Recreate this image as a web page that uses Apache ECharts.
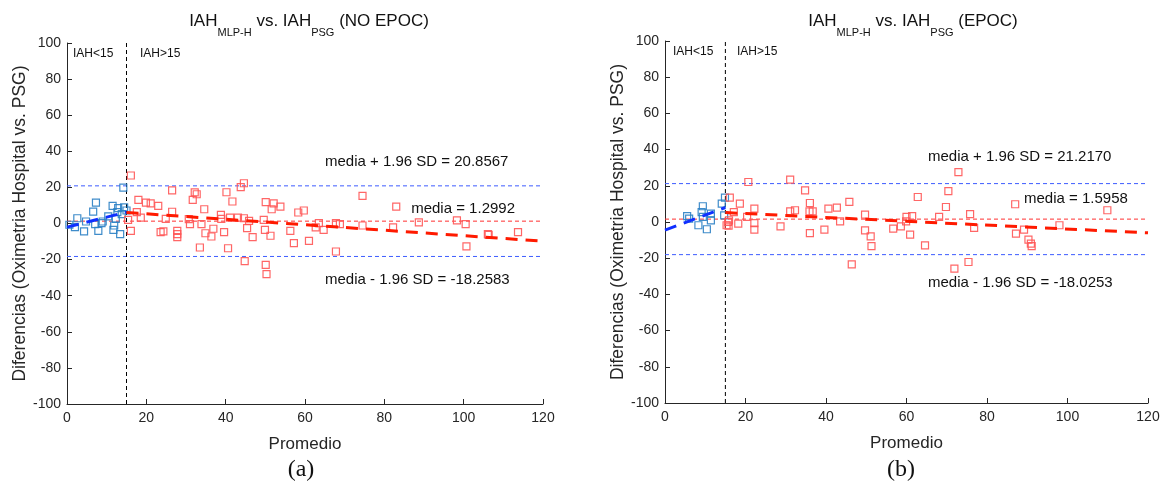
<!DOCTYPE html>
<html><head><meta charset="utf-8">
<script src="https://cdn.jsdelivr.net/npm/echarts@6/dist/echarts.min.js"></script>
<style>html,body{margin:0;padding:0;background:#fff}#c{width:1170px;height:499px}</style>
</head><body><div id="c"></div>
<script>
// ---- Data ----
// Panel (a) NO EPOC
const noEpocLow = [[0.6,-0.7],[2.0,-2.0],[2.6,2.9],[4.3,-4.4],[4.8,1.1],[6.6,6.6],[7.3,11.6],[7.1,-0.4],[7.9,-4.1],[8.7,0.2],[9.0,1.1],[10.4,3.9],[11.5,9.8],[11.7,-3.5],[11.9,-1.1],[12.3,2.6],[12.7,6.3],[12.9,8.5],[13.4,-5.9],[13.8,5.2],[14.2,19.9],[14.4,8.9],[15.0,7.2]];
const noEpocHigh = [[16.1,26.6],[16.1,-4.1],[15.4,2.0],[17.6,6.3],[18.0,13.1],[18.6,3.3],[19.9,11.6],[21.1,11.2],[23.0,9.8],[23.6,-4.8],[24.3,-4.4],[24.9,2.6],[26.5,18.4],[26.5,6.5],[27.8,-4.1],[27.8,-5.9],[27.8,-7.6],[30.7,2.4],[31.0,-0.4],[31.7,13.1],[32.2,17.2],[32.7,16.2],[33.9,-0.4],[34.6,7.9],[34.9,-5.4],[36.4,-7.2],[36.9,-2.9],[38.8,4.8],[38.9,2.6],[39.6,-4.8],[40.2,17.3],[40.6,-13.7],[41.1,3.3],[41.7,12.2],[33.5,-13.3],[44.6,22.3],[43.8,20.1],[43.1,3.3],[44.6,2.9],[45.4,-2.6],[45.9,1.5],[46.8,-7.6],[44.8,-20.8],[49.6,2.0],[50.1,11.8],[51.6,7.9],[52.1,11.2],[53.8,9.4],[49.9,-3.5],[51.3,-6.8],[56.3,-4.1],[57.2,-10.9],[58.3,6.1],[59.7,7.2],[61.0,-9.6],[63.5,0.2],[62.7,-2.2],[64.7,-3.5],[67.8,0.2],[68.8,-0.4],[67.8,-15.5],[74.5,15.3],[74.5,-1.1],[82.2,-2.2],[83.0,9.4],[50.1,-22.9],[50.3,-28.0],[88.7,0.6],[98.3,1.7],[100.5,-0.4],[100.7,-12.7],[106.1,-5.9],[106.3,-6.3],[113.7,-4.8]];
const noEpocFitLow = [[0,-2.0],[15,6.3]];
const noEpocFitHigh = [[15,6.1],[120,-9.8]];
const noEpocMean = 1.2992, noEpocUpper = 20.8567, noEpocLower = -18.2583;

// Panel (b) EPOC
const epocLow = [[5.5,3.2],[6.0,1.9],[8.3,-1.8],[9.1,5.5],[9.4,8.7],[10.4,-4.0],[9.4,2.8],[11.4,4.6],[11.4,0.9],[14.1,10.2],[14.9,13.5],[14.7,3.7]];
const epocHigh = [[20.7,22.1],[31.1,23.4],[34.8,17.5],[36.0,10.5],[35.9,5.9],[36.7,5.9],[32.3,6.5],[31.1,5.9],[16.1,13.5],[18.6,10.2],[17.1,5.5],[22.2,7.4],[20.4,2.8],[22.2,-0.6],[22.2,-4.2],[18.2,-0.9],[15.7,0],[15.3,-1.8],[15.8,-2.0],[15.9,0.9],[28.7,-2.4],[36.0,-6.1],[39.6,-4.2],[40.6,7.4],[42.7,7.9],[43.5,0.4],[45.8,11.1],[46.4,-23.4],[49.7,4.1],[49.7,-4.6],[51.1,-7.9],[51.3,-13.3],[56.7,-3.7],[58.6,-2.4],[59.9,0.4],[60.0,2.8],[61.4,3.3],[60.9,-7.0],[62.8,13.8],[64.6,-12.9],[68.1,2.8],[69.8,8.3],[70.4,17.1],[72.9,27.6],[71.9,-25.8],[75.4,-22.1],[75.8,4.3],[76.8,-3.3],[87.0,9.8],[87.2,-6.4],[89.2,-4.2],[90.3,-9.7],[90.9,-11.9],[91.1,-13.3],[98.0,-1.8],[109.9,6.5]];
const epocFitLow = [[0,-4.5],[15,8.0]];
const epocFitHigh = [[15,5.2],[120,-6.0]];
const epocMean = 1.5958, epocUpper = 21.2170, epocLower = -18.0253;

const cutoff = 15;
const xTicks = {min:0, max:120, interval:20};
const yTicks = {min:-100, max:100, interval:20};

// ---- Styles ----
const FONT = '"Liberation Sans", Arial, sans-serif';
const AX = '#262626';
const BLUE_PT = '#2a7fc4';
const RED_PT = '#ff5555';

function xAxis(gi){
  return {gridIndex:gi, type:'value', min:xTicks.min, max:xTicks.max, interval:xTicks.interval,
    name:'Promedio', nameLocation:'middle', nameGap:32,
    nameTextStyle:{fontFamily:FONT, fontSize:17, color:AX},
    axisLine:{show:true, onZero:false, lineStyle:{color:AX, width:1}},
    axisTick:{show:true, inside:true, length:5, lineStyle:{color:AX}},
    axisLabel:{fontFamily:FONT, fontSize:14, color:AX, margin:7},
    splitLine:{show:false}};
}
function yAxis(gi, gap){
  return {gridIndex:gi, type:'value', min:yTicks.min, max:yTicks.max, interval:yTicks.interval,
    name:'Diferencias (Oximetria Hospital vs. PSG)', nameLocation:'middle', nameGap:gap,
    nameTextStyle:{fontFamily:FONT, fontSize:17.5, color:AX},
    axisLine:{show:true, onZero:false, lineStyle:{color:AX, width:1}},
    axisTick:{show:true, inside:true, length:5, lineStyle:{color:AX}},
    axisLabel:{fontFamily:FONT, fontSize:14, color:AX, margin:6},
    splitLine:{show:false}};
}
function scatter(gi, data, color){
  return {type:'scatter', xAxisIndex:gi, yAxisIndex:gi, data:data, symbol:'rect', symbolSize:7,
    itemStyle:{color:'rgba(255,255,255,0)', borderColor:color, borderWidth:1.2, opacity:0.9}, silent:true, z:3};
}
function line(gi, data, color, width, dash, z){
  return {type:'line', xAxisIndex:gi, yAxisIndex:gi, data:data, symbol:'none', showSymbol:false,
    lineStyle:{color:color, width:width, type:dash}, itemStyle:{color:color},
    emphasis:{disabled:true}, silent:true, z:z};
}
function hLine(gi, v, color){ return line(gi, [[xTicks.min, v],[xTicks.max, v]], color, 1, [4,3], 2); }
function vLine(gi, v){ return line(gi, [[v, yTicks.min],[v, yTicks.max]], '#000000', 1, [4,3], 2); }
function txt(x, y, s, size, align, family){
  return {type:'text', x:x, y:y, silent:true,
    style:{text:s, fontSize:size||15, fontFamily:family||FONT, fill:'#111',
      textAlign:align||'left', textVerticalAlign:'middle', align:align||'left', verticalAlign:'middle'}};
}
const richT = {
  a:{fontSize:17, fontFamily:FONT, fontWeight:'normal', color:'#111', lineHeight:21, verticalAlign:'top'},
  b:{fontSize:11, fontFamily:FONT, fontWeight:'normal', color:'#111', lineHeight:12, padding:[14,0,0,0], verticalAlign:'top'}
};

const chart = echarts.init(document.getElementById('c'), null, {renderer:'canvas'});
chart.setOption({
  animation:false,
  backgroundColor:'#fff',
  title:[
    {text:'{a|IAH}{b|MLP-H}{a| vs. IAH}{b|PSG}{a| (NO EPOC)}', left:304, top:8, textAlign:'center', textStyle:{fontWeight:'normal', rich:richT}},
    {text:'{a|IAH}{b|MLP-H}{a| vs. IAH}{b|PSG}{a| (EPOC)}', left:908, top:8, textAlign:'center', textStyle:{fontWeight:'normal', rich:richT}}
  ],
  grid:[
    {left:67, right:627, top:43, bottom:95},
    {left:665, right:22, top:41, bottom:96}
  ],
  xAxis:[xAxis(0), xAxis(1)],
  yAxis:[yAxis(0, 34), yAxis(1, 37)],
  series:[
    hLine(0, noEpocMean, '#ff3030'),
    hLine(0, noEpocUpper, '#3d5cff'),
    hLine(0, noEpocLower, '#3d5cff'),
    vLine(0, cutoff),
    scatter(0, noEpocLow, BLUE_PT),
    scatter(0, noEpocHigh, RED_PT),
    line(0, noEpocFitLow, '#1030ff', 3, [12,8], 4),
    line(0, noEpocFitHigh, '#ff1a00', 3, [12,8], 4),
    hLine(1, epocMean, '#ff3030'),
    hLine(1, epocUpper, '#3d5cff'),
    hLine(1, epocLower, '#3d5cff'),
    vLine(1, cutoff),
    scatter(1, epocLow, BLUE_PT),
    scatter(1, epocHigh, RED_PT),
    line(1, epocFitLow, '#1030ff', 3, [12,8], 4),
    line(1, epocFitHigh, '#ff1a00', 3, [12,8], 4)
  ],
  graphic:[
    txt(73, 54, 'IAH<15', 12),
    txt(140, 54, 'IAH>15', 12),
    txt(673, 52, 'IAH<15', 12),
    txt(737, 52, 'IAH>15', 12),
    txt(325, 162, 'media + 1.96 SD = 20.8567', 15),
    txt(515, 209, 'media = 1.2992', 15, 'right'),
    txt(325, 280, 'media - 1.96 SD = -18.2583', 15),
    txt(928, 157, 'media + 1.96 SD = 21.2170', 15),
    txt(1024, 199, 'media = 1.5958', 15),
    txt(928, 283, 'media - 1.96 SD = -18.0253', 15),
    txt(301, 470, '(a)', 24, 'center', '"Liberation Serif", "Times New Roman", serif'),
    txt(901, 470, '(b)', 24, 'center', '"Liberation Serif", "Times New Roman", serif')
  ]
});
</script></body></html>
